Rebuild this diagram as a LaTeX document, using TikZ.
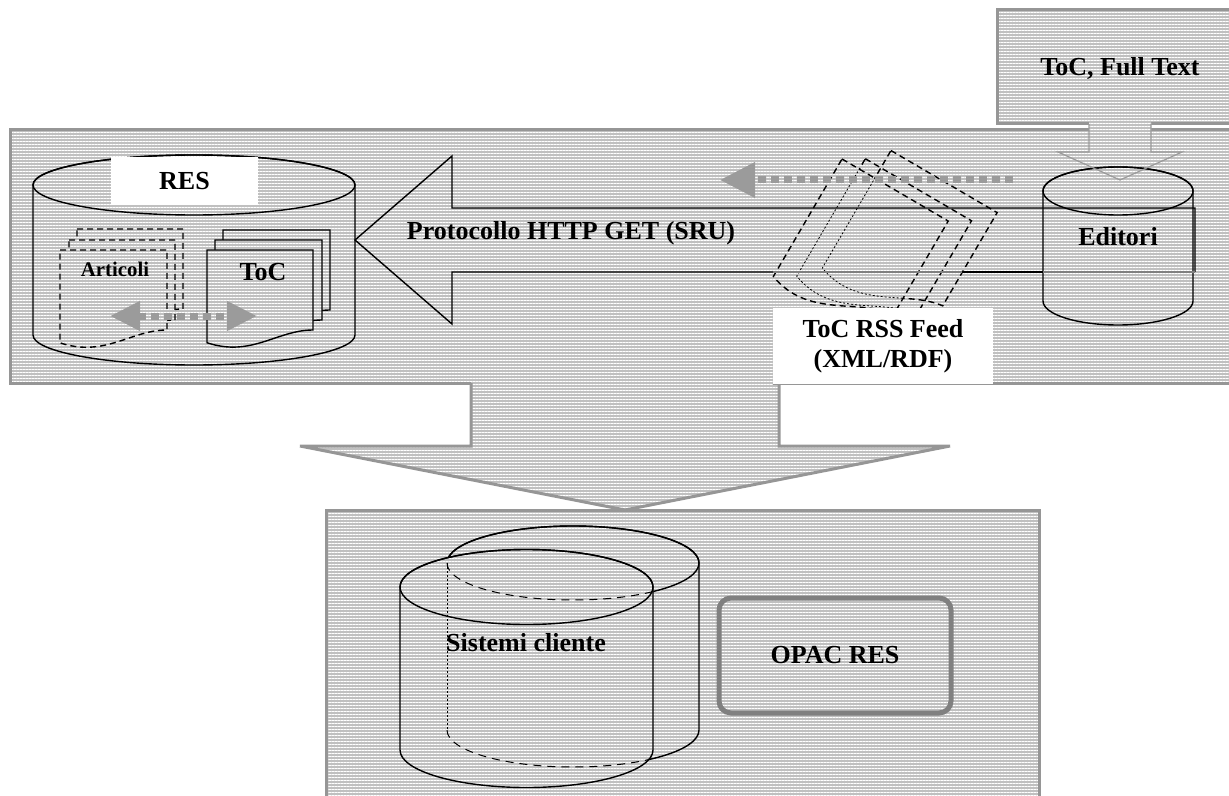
\documentclass[tikz,border=0pt]{standalone}
\usepackage{fontspec}
\setmainfont{Liberation Serif}
\usepackage{tikz}
\usetikzlibrary{arrows.meta,calc,patterns.meta}
\definecolor{stripegray}{RGB}{192,192,192}
\definecolor{bordergray}{RGB}{150,150,150}
\definecolor{arrowgray}{RGB}{155,155,155}
\definecolor{opacgray}{RGB}{128,128,128}

\begin{document}
\begin{tikzpicture}[x=0.5pt,y=-0.5pt,
        stripes/.style={preaction={fill=stripegray},pattern={Lines[angle=0,distance=1.5pt,line width=0.5pt]},pattern color=white},
        panel/.style={stripes,draw=bordergray,line width=1.5pt},
        blackline/.style={line width=0.7pt},
        dashline/.style={line width=0.7pt,dash pattern=on 3pt off 2pt},
        hiddenline/.style={line width=0.4pt,dash pattern=on 1pt off 1pt},
        txt/.style={font=\bfseries\fontsize{13}{15}\selectfont,inner sep=0pt},
        graydots/.style={arrowgray,line width=3.5pt,dash pattern=on 4pt off 2.5pt}]
                \useasboundingbox (0,0) rectangle (1229,796);
                \clip (0,0) rectangle (1229,796);
                \def\docpage#1#2#3#4#5{\draw[#1] (#2,#3) -- ({#2+#4},#3) -- ({#2+#4},{#3+#5}) .. controls ({#2+0.66*#4},{#3+#5}) and ({#2+0.42*#4},{#3+#5+0.26*#4}) .. (#2,{#3+#5+0.12*#4}) -- cycle;}
                \def\feedpage#1#2#3{\draw[#1] (#2,#3) -- ({#2+123},#3) -- ({#2+123},{#3+108}) .. controls ({#2+85},{#3+112}) and ({#2+50},{#3+155}) .. (#2,{#3+136}) -- cycle;}
                \draw[panel] (326,510) rectangle (1039,800);
                \draw[panel] (10,130) rectangle (1240,383);
                \draw[panel] (997,10) rectangle (1240,124);
                \path[stripes] (471,380) -- (471,446) -- (300,446) -- (625,510) -- (950,446) -- (779,446) -- (779,380) -- cycle;
                \draw[bordergray,line width=1.5pt] (471,383) -- (471,446) -- (300,446) -- (625,510) -- (950,446) -- (779,446) -- (779,383);
                \path[stripes] (1089,121) -- (1089,152) -- (1058,152) -- (1120,180) -- (1182,152) -- (1151,152) -- (1151,121) -- cycle;
                \path[stripes,draw,blackline] (33,185) -- (33,335) arc[start angle=180,end angle=0,x radius=161,y radius=30] -- (355,185) arc[start angle=0,end angle=-180,x radius=161,y radius=30] -- cycle;
                \draw[blackline] (194,185) ellipse [x radius=161,y radius=30];
                \node[txt,fill=white,minimum width=73.5pt,minimum height=24pt] (res) at (184.5,181) {RES};
                \docpage{stripes,dashline}{77}{229}{106}{80}
                \docpage{stripes,dashline}{69}{240}{106}{80}
                \docpage{stripes,dashline}{60}{250}{107}{80}
                \docpage{stripes,blackline}{223}{230}{107}{80}
                \docpage{stripes,blackline}{215}{240}{107}{80}
                \docpage{stripes,blackline}{207}{250}{106}{80}
                \node[txt,font=\bfseries\fontsize{10.4}{12}\selectfont] (articoli) at (115,269) {Articoli};
                \node[txt] (toc) at (263,272) {ToC};
                \coordinate (artl) at (110,316);
                \coordinate (artr) at (257,316);
                \draw[graydots,{Triangle[length=15pt,width=14pt]}-{Triangle[length=15pt,width=14pt]}] (artl) -- (artr);
                \path[stripes,draw,blackline] (1043,191) -- (1043,301) arc[start angle=180,end angle=0,x radius=75,y radius=24] -- (1193,191) arc[start angle=0,end angle=-180,x radius=75,y radius=24] -- cycle;
                \draw[blackline] (1118,191) ellipse [x radius=75,y radius=24];
                \draw[arrowgray,line width=0.6pt] (1089,124) -- (1089,152) -- (1058,152) -- (1120,180) -- (1182,152) -- (1151,152) -- (1151,124);
                \begin{scope}[shift={(842,159)},rotate=-30.3]
                    \feedpage{dashline}{38}{-32}
                    \feedpage{dashline}{20}{-12}
                    \coordinate (fa) at (0,0);
                    \coordinate (fb) at (123,0);
                    \coordinate (fc) at (123,108);
                    \coordinate (fd) at (85,112);
                    \coordinate (fe) at (50,155);
                    \coordinate (ff) at (0,136);
                \end{scope}
                \begin{scope}
                    \clip (fa) -- (fb) -- (fc) .. controls (fd) and (fe) .. (ff) -- cycle;
                    \path[stripes] (740,140) rectangle (980,340);
                    \begin{scope}[shift={(842,159)},rotate=-30.3]
                        \feedpage{hiddenline}{38}{-32}
                        \feedpage{hiddenline}{20}{-12}
                    \end{scope}
                \end{scope}
                \draw[dashline] (fa) -- (fb) -- (fc) .. controls (fd) and (fe) .. (ff) -- cycle;
                \draw[blackline] (1195,272) -- (1195,208) -- (452,208) -- (452,156) -- (355,240) -- (452,324) -- (452,272) -- (773,272);
                \draw[blackline,gray] (773,272) -- (962,272);
                \draw[blackline] (962,272) -- (1043,272);
                \draw[blackline,gray] (1043,272) -- (1195,272);
                \coordinate (feedsrc) at (1013,180);
                \coordinate (feeddst) at (720,180);
                \draw[graydots,-{Triangle[length=17.5pt,width=17pt]}] (feedsrc) -- (feeddst);
                \node[txt,fill=white,align=center,minimum width=110pt,minimum height=38pt] (rss) at (883,346) {ToC RSS Feed\\(XML/RDF)};
                \draw[bordergray,thin] (rss.south west) -- (rss.south east);
                \node[txt] (protocollo) at (571,233) {Protocollo HTTP GET (SRU)};
                \node[txt] (editori) at (1118,237) {Editori};
                \node[txt] (fulltext) at (1120,68) {ToC, Full Text};
                \path[stripes,draw,blackline] (447,563) -- (447,730) arc[start angle=180,end angle=0,x radius=126,y radius=37] -- (699,563) arc[start angle=0,end angle=-180,x radius=126,y radius=37] -- cycle;
                \draw[blackline] (573,563) ellipse [x radius=126,y radius=37];
                \path[stripes,draw,blackline] (400,587) -- (400,750) arc[start angle=180,end angle=0,x radius=126.5,y radius=37.5] -- (653,587) arc[start angle=0,end angle=-180,x radius=126.5,y radius=37.5] -- cycle;
                \begin{scope}
                    \clip (400,587) -- (400,750) arc[start angle=180,end angle=0,x radius=126.5,y radius=37.5] -- (653,587) arc[start angle=0,end angle=-180,x radius=126.5,y radius=37.5] -- cycle;
                    \draw[hiddenline] (447,563) -- (447,730);
                    \draw[line width=0.5pt,dash pattern=on 4pt off 3pt] (447,563) arc[start angle=180,end angle=0,x radius=126,y radius=37];
                    \draw[line width=0.5pt,dash pattern=on 4pt off 3pt] (447,730) arc[start angle=180,end angle=0,x radius=126,y radius=37];
                \end{scope}
                \draw[blackline] (526.5,587) ellipse [x radius=126.5,y radius=37.5];
                \node[txt] (sistemi) at (526,643) {Sistemi cliente};
                \node[txt,stripes,draw=opacgray,line width=2.5pt,rounded corners=6pt,minimum width=116pt,minimum height=57.5pt] (opac) at (835,655.5) {OPAC RES};
            \end{tikzpicture}
\end{document}
